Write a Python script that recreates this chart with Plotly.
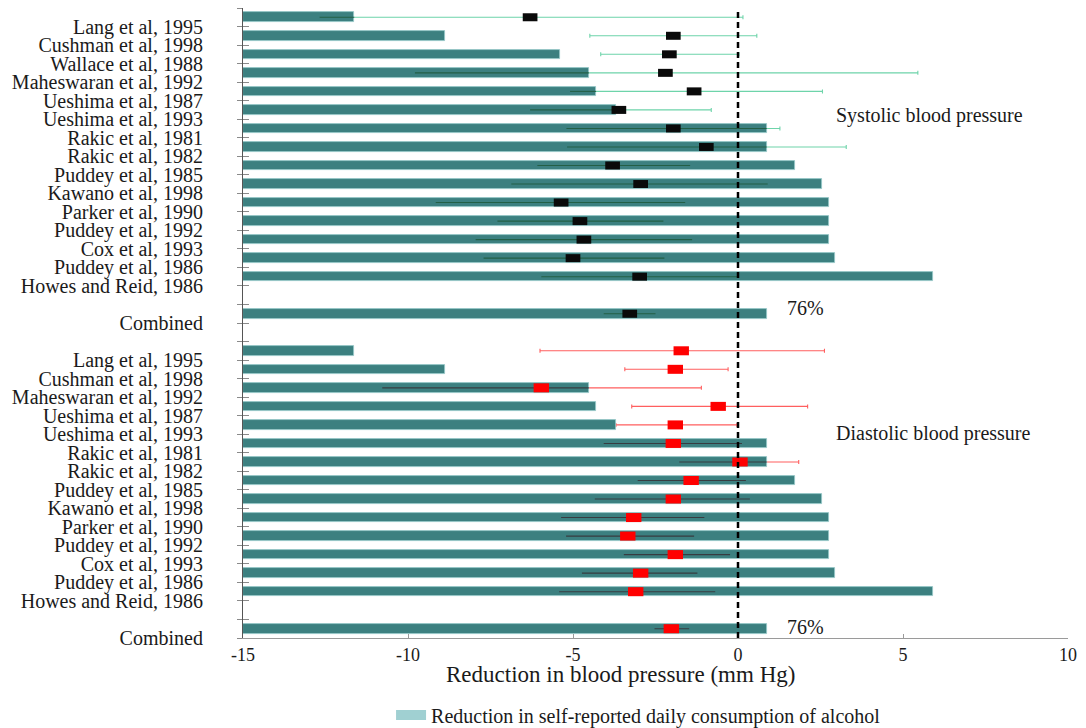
import plotly.graph_objects as go

# ---------------- data ----------------
sys_studies = ["Lang et al, 1995", "Cushman et al, 1998", "Wallace et al, 1988",
               "Maheswaran et al, 1992", "Ueshima et al, 1987", "Ueshima et al, 1993",
               "Rakic et al, 1981", "Rakic et al, 1982", "Puddey et al, 1985",
               "Kawano et al, 1998", "Parker et al, 1990", "Puddey et al, 1992",
               "Cox et al, 1993", "Puddey et al, 1986", "Howes and Reid, 1986"]
dia_studies = ["Lang et al, 1995", "Cushman et al, 1998", "Maheswaran et al, 1992",
               "Ueshima et al, 1987", "Ueshima et al, 1993", "Rakic et al, 1981",
               "Rakic et al, 1982", "Puddey et al, 1985", "Kawano et al, 1998",
               "Parker et al, 1990", "Puddey et al, 1992", "Cox et al, 1993",
               "Puddey et al, 1986", "Howes and Reid, 1986"]

# bar right ends (reduction in self-reported alcohol, drawn on the mm Hg axis from -15)
sys_bar = [-11.63, -8.89, -5.4, -4.52, -4.3, -3.7, 0.87, 0.87, 1.72, 2.56,
           2.77, 2.77, 2.77, 2.95, 5.9]
sys_bar_comb = 0.87
dia_bar = [-11.63, -8.89, -4.52, -4.3, -3.7, 0.87, 0.87, 1.72, 2.56,
           2.77, 2.77, 2.77, 2.95, 5.9]
dia_bar_comb = 0.87

# systolic effect, lower and upper CI
sys_mean = [-6.30, -1.96, -2.08, -2.20, -1.33, -3.61, -1.96, -0.96, -3.80, -2.95,
            -5.36, -4.79, -4.67, -5.00, -2.98]
sys_lo = [-12.68, -4.49, -4.16, -9.79, -5.09, -6.30, -5.20, -5.18, -6.08, -6.87,
          -9.16, -7.29, -7.95, -7.71, -5.96]
sys_hi = [0.15, 0.57, 0.03, 5.45, 2.56, -0.81, 1.27, 3.28, -1.45, 0.90,
          -1.60, -2.26, -1.39, -2.23, 0.03]
sys_comb = (-3.28, -4.07, -2.50)

# diastolic effect, lower and upper CI
dia_mean = [-1.72, -1.90, -5.96, -0.60, -1.90, -1.96, 0.06, -1.42, -1.96,
            -3.16, -3.34, -1.90, -2.95, -3.10]
dia_lo = [-6.00, -3.43, -10.78, -3.22, -3.70, -4.07, -1.78, -3.04, -4.34,
          -5.36, -5.21, -3.46, -4.73, -5.42]
dia_hi = [2.62, -0.30, -1.11, 2.11, -0.03, 0.12, 1.84, 0.24, 0.36,
          -1.02, -1.33, -0.24, -1.23, -0.69]
dia_comb = (-2.02, -2.53, -1.48)

x_ticks = [-15, -10, -5, 0, 5, 10]
x_ticktext = ["-15", "-10", "-5", "0", "5", "10"]

# ---------------- layout of rows ----------------
AX_MIN = -15
n_s = len(sys_studies)
n_d = len(dia_studies)
sys_rows = list(range(n_s))
sys_comb_row = n_s + 1
dia_start = sys_comb_row + 2
dia_rows = [dia_start + i for i in range(n_d)]
dia_comb_row = dia_start + n_d + 1

tick_vals = [r - 0.5 for r in range(dia_comb_row + 2)]
tick_text = [""] * len(tick_vals)
for i, s in enumerate(sys_studies):
    tick_text[sys_rows[i] + 1] = s
tick_text[sys_comb_row + 1] = "Combined"
for i, s in enumerate(dia_studies):
    tick_text[dia_rows[i] + 1] = s
tick_text[dia_comb_row + 1] = "Combined"

rows_all = sys_rows + [sys_comb_row] + dia_rows + [dia_comb_row]
bars_all = sys_bar + [sys_bar_comb] + dia_bar + [dia_bar_comb]

s_rows = sys_rows + [sys_comb_row]
s_mean = sys_mean + [sys_comb[0]]
s_lo = sys_lo + [sys_comb[1]]
s_hi = sys_hi + [sys_comb[2]]
s_bar = sys_bar + [sys_bar_comb]

d_rows = dia_rows + [dia_comb_row]
d_mean = dia_mean + [dia_comb[0]]
d_lo = dia_lo + [dia_comb[1]]
d_hi = dia_hi + [dia_comb[2]]
d_bar = dia_bar + [dia_bar_comb]

FONT = "Liberation Serif"
TEAL = "rgb(60,128,128)"

fig = go.Figure()

def ci_trace(rows, mean, lo, hi, color):
    return go.Scatter(
        x=mean, y=rows, mode="markers",
        marker=dict(size=1, color="rgba(0,0,0,0)"),
        error_x=dict(type="data", symmetric=False,
                     array=[h - m for h, m in zip(hi, mean)],
                     arrayminus=[m - l for m, l in zip(mean, lo)],
                     color=color, thickness=1.1, width=2),
        showlegend=False, hoverinfo="skip", xaxis="x", yaxis="y")

fig.add_trace(ci_trace(s_rows, s_mean, s_lo, s_hi, "rgb(110,212,170)"))
fig.add_trace(ci_trace(d_rows, d_mean, d_lo, d_hi, "rgb(255,95,95)"))

fig.add_trace(go.Bar(
    y=rows_all, x=[b - AX_MIN for b in bars_all], base=AX_MIN,
    orientation="h", width=0.52,
    marker=dict(color=TEAL, line=dict(color="rgb(150,200,200)", width=0.8)),
    showlegend=False, hoverinfo="skip", xaxis="x", yaxis="y2"))

def overlap_xy(rows, lo, hi, bar):
    xs, ys = [], []
    for r, l, h, b in zip(rows, lo, hi, bar):
        if l < b:
            xs += [l, min(h, b), None]
            ys += [r, r, None]
    return xs, ys

sx, sy = overlap_xy(s_rows, s_lo, s_hi, s_bar)
dx, dy = overlap_xy(d_rows, d_lo, d_hi, d_bar)
fig.add_trace(go.Scatter(x=sx, y=sy, mode="lines",
                         line=dict(color="rgb(35,95,70)", width=1.1),
                         showlegend=False, hoverinfo="skip", xaxis="x", yaxis="y3"))
fig.add_trace(go.Scatter(x=dx, y=dy, mode="lines",
                         line=dict(color="rgb(55,60,65)", width=1.1),
                         showlegend=False, hoverinfo="skip", xaxis="x", yaxis="y3"))

fig.add_trace(go.Scatter(
    x=s_mean, y=s_rows, mode="markers",
    marker=dict(symbol="line-ew", size=10.5, color="#0a0a0a",
                line=dict(color="#0a0a0a", width=8)),
    showlegend=False, xaxis="x", yaxis="y3"))
fig.add_trace(go.Scatter(
    x=d_mean, y=d_rows, mode="markers",
    marker=dict(symbol="line-ew", size=11, color="#ff0000",
                line=dict(color="#ff0000", width=9)),
    showlegend=False, xaxis="x", yaxis="y3"))

# legend entry (wide light-teal swatch)
fig.add_trace(go.Scatter(
    x=[None], y=[None], mode="lines",
    name="Reduction in self-reported daily consumption of alcohol",
    line=dict(color="rgb(160,208,210)", width=14), showlegend=True,
    xaxis="x", yaxis="y3"))

# The page body has an 8px margin, so the figure is sized/offset to compensate.
W, H = 1070, 720
yr = [tick_vals[-1], tick_vals[0]]
fig.update_layout(
    width=W, height=H,
    margin=dict(l=235, r=10, t=0, b=90, autoexpand=False),
    paper_bgcolor="white", plot_bgcolor="white",
    font=dict(family=FONT, size=18, color="#1a1a1a"),
    bargap=0,
    xaxis=dict(range=[AX_MIN, x_ticks[-1]], tickvals=x_ticks, ticktext=x_ticktext,
               showgrid=False, zeroline=False, showline=True,
               linecolor="#9a9a9a", linewidth=1.2,
               ticks="inside", ticklen=4, tickcolor="#9a9a9a",
               ticklabeloverflow="allow",
               tickfont=dict(family=FONT, size=18, color="#1a1a1a")),
    yaxis=dict(range=yr, tickvals=tick_vals, ticktext=tick_text,
               showgrid=False, zeroline=False, showline=True,
               linecolor="#555555", linewidth=1.2,
               ticks="outside", ticklen=5, tickcolor="#8a8a8a",
               ticklabelstandoff=30,
               tickfont=dict(family=FONT, size=20, color="#1a1a1a")),
    yaxis2=dict(range=yr, overlaying="y", side="left", tickvals=tick_vals,
                showticklabels=False, showgrid=False, zeroline=False,
                showline=False, ticks="inside", ticklen=6, tickcolor="#8a8a8a"),
    yaxis3=dict(range=yr, overlaying="y", side="left", visible=False),
    legend=dict(orientation="h", xref="container", yref="container",
                x=0.358, xanchor="left", y=0.018, yanchor="middle",
                font=dict(family=FONT, size=20, color="#1a1a1a"),
                bgcolor="rgba(0,0,0,0)"),
    shapes=[dict(type="line", xref="x", yref="paper", x0=0, x1=0, y0=0, y1=1,
                 layer="above", line=dict(color="black", width=2.5, dash="6px,4px"))],
    annotations=[
        dict(text="Reduction in blood pressure (mm Hg)", xref="paper", yref="paper",
             x=0.458, y=-0.058, xanchor="center", yanchor="middle", showarrow=False,
             font=dict(family=FONT, size=23)),
        dict(text="Systolic blood pressure", xref="x", yref="y", x=2.9, y=5.3,
             xanchor="left", yanchor="middle", showarrow=False,
             font=dict(family=FONT, size=20)),
        dict(text="Diastolic blood pressure", xref="x", yref="y", x=2.9, y=22.45,
             xanchor="left", yanchor="middle", showarrow=False,
             font=dict(family=FONT, size=20)),
        dict(text="76%", xref="x", yref="y", x=1.42, y=15.7,
             xanchor="left", yanchor="middle", showarrow=False,
             font=dict(family=FONT, size=20)),
        dict(text="76%", xref="x", yref="y", x=1.42, y=32.9,
             xanchor="left", yanchor="middle", showarrow=False,
             font=dict(family=FONT, size=20)),
    ],
)

fig.write_html("out.html")
